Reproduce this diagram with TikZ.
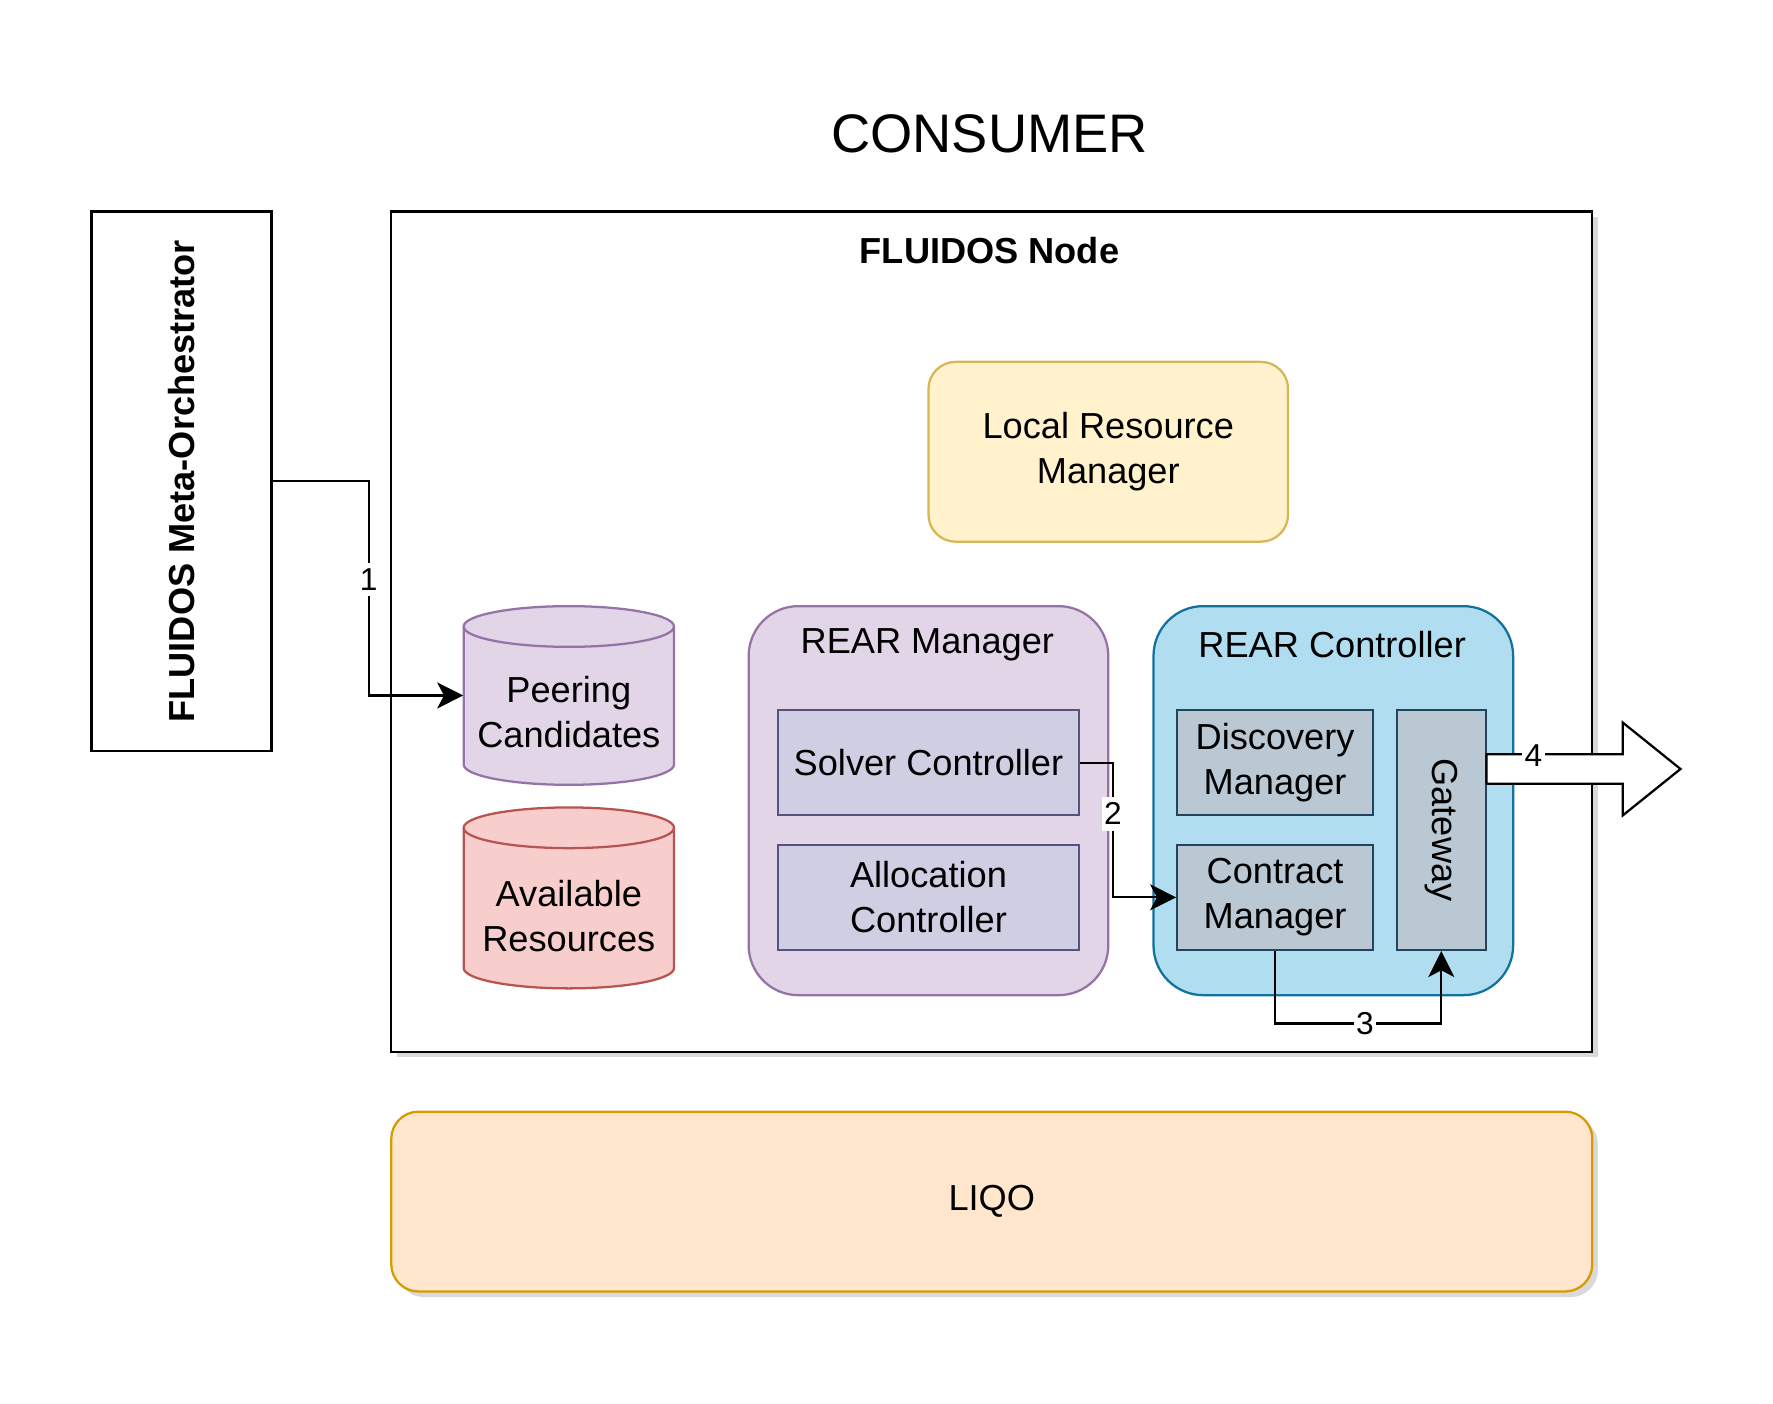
\documentclass[tikz,border=0pt]{standalone}
\usepackage{fontspec}
\setmainfont{Liberation Sans}
\usetikzlibrary{arrows.meta,shadows}
\definecolor{lrmfill}{HTML}{FFF2CC}\definecolor{lrmdraw}{HTML}{D6B656}
\definecolor{pfill}{HTML}{E1D5E7}\definecolor{pdraw}{HTML}{9673A6}
\definecolor{rfill}{HTML}{F8CECC}\definecolor{rdraw}{HTML}{B85450}
\definecolor{ipfill}{HTML}{D0CEE2}\definecolor{ipdraw}{HTML}{56517E}
\definecolor{bfill}{HTML}{B1DDF0}\definecolor{bdraw}{HTML}{10739E}
\definecolor{gfill}{HTML}{BAC8D3}\definecolor{gdraw}{HTML}{23445D}
\definecolor{ofill}{HTML}{FFE6CC}\definecolor{odraw}{HTML}{D79B00}
\begin{document}
\begin{tikzpicture}[x=0.5pt,y=0.5pt,
  font=\fontsize{16}{20}\selectfont,
  box/.style={draw, line width=1pt, inner sep=0pt, align=center},
  shad/.style={drop shadow={shadow xshift=2.5pt, shadow yshift=-2.5pt, fill=black, opacity=0.15}},
  conn/.style={line width=1pt, -{Stealth[length=11.5pt,width=11.5pt,inset=3pt]}},
  edgelabel/.style={fill=white, inner xsep=1pt, inner ysep=2.5pt, font=\fontsize{14}{16}\selectfont},
  cyl/.style={line width=1pt},
  txt/.style={align=center, inner sep=0pt}]
\useasboundingbox (0,-6.2) rectangle (1567.8,1235);

\node[txt, font=\fontsize{24}{28}\selectfont] (title) at (875,1117) {CONSUMER};

% Meta-orchestrator
\node[box, minimum width=79.5pt, minimum height=238.5pt] (mo) at (160.5,809.5) {};
\node[txt, rotate=90, font=\fontsize{16}{20}\selectfont\bfseries] (mol) at (mo.center) {FLUIDOS Meta-Orchestrator};

% FLUIDOS Node
\node[box, shad, fill=white, minimum width=531pt, minimum height=371.5pt] (fn) at (877,676.5) {};
\node[txt, font=\fontsize{16}{20}\selectfont\bfseries] (fnl) at (875,1013) {FLUIDOS Node};

% Local Resource Manager
\node[box, draw=lrmdraw, fill=lrmfill, rounded corners=12pt, minimum width=159pt, minimum height=79.5pt] (lrm) at (980,835.5) {Local Resource\\Manager};

% Peering Candidates cylinder
\node[inner sep=0pt, minimum width=93pt, minimum height=79pt] (pc) at (503,620) {};
\draw[cyl, draw=pdraw, fill=pfill] (410,681) -- (410,559) arc[start angle=180, end angle=360, x radius=93, y radius=18] -- (596,681) arc[start angle=0, end angle=180, x radius=93, y radius=18] -- cycle;
\draw[cyl, draw=pdraw] (410,681) arc[start angle=180, end angle=360, x radius=93, y radius=18];
\node[txt] (pct) at (503,605) {Peering\\Candidates};

% Available Resources cylinder
\node[inner sep=0pt, minimum width=93pt, minimum height=80pt] (ar) at (503,441) {};
\draw[cyl, draw=rdraw, fill=rfill] (410,503) -- (410,379) arc[start angle=180, end angle=360, x radius=93, y radius=18] -- (596,503) arc[start angle=0, end angle=180, x radius=93, y radius=18] -- cycle;
\draw[cyl, draw=rdraw] (410,503) arc[start angle=180, end angle=360, x radius=93, y radius=18];
\node[txt] (art) at (503,425) {Available\\Resources};

% REAR Manager
\node[box, draw=pdraw, fill=pfill, rounded corners=22pt, minimum width=159pt, minimum height=172pt] (rm) at (821,527) {};
\node[txt] (rml) at (820,665) {REAR Manager};
\node[box, draw=ipdraw, fill=ipfill, minimum width=133pt, minimum height=46.5pt] (sc) at (821,560.5) {Solver Controller};
\node[box, draw=ipdraw, fill=ipfill, minimum width=133pt, minimum height=46.5pt] (ac) at (821,441.5) {Allocation\\Controller};

% REAR Controller
\node[box, draw=bdraw, fill=bfill, rounded corners=22pt, minimum width=159pt, minimum height=172pt] (rc) at (1179,527) {};
\node[txt] (rcl) at (1178,665) {REAR Controller};
\node[box, draw=gdraw, fill=gfill, minimum width=86.5pt, minimum height=46.5pt] (dm) at (1127.5,560.5) {Discovery\\Manager};
\node[box, draw=gdraw, fill=gfill, minimum width=86.5pt, minimum height=46.5pt] (cm) at (1127.5,441.5) {Contract\\Manager};
\node[box, draw=gdraw, fill=gfill, minimum width=39.5pt, minimum height=106pt] (gw) at (1274.5,501) {};
\node[txt, rotate=-90] (gwl) at (gw.center) {Gateway};

% LIQO
\node[box, shad, draw=odraw, fill=ofill, rounded corners=12pt, minimum width=531pt, minimum height=79.5pt] (liqo) at (877,172.5) {LIQO};

% Connectors
\draw[conn] (mo.east) -- ++(85,0) |- (pc.west) node[pos=0.23, edgelabel] {1};
\draw[conn] (sc.east) -- ++(29,0) |- (cm.west) node[pos=0.19, edgelabel] {2};
\draw[conn] (cm.south) -- ++(0,-64) -| (gw.south) node[pos=0.27, edgelabel] {3};

% Big arrow 4
\coordinate (a4s) at (1314.5,555);
\coordinate (a4t) at (1486,555);
\draw[line width=1pt, fill=white] (a4s) ++(0,13) -- ++(120.5,0) -- ++(0,28) -- (a4t) -- ++(-51,-41) -- ++(0,28) -- ++(-120.5,0) -- cycle;
\node[edgelabel, inner ysep=1pt] (l4) at (1356,567) {4};
\end{tikzpicture}
\end{document}
